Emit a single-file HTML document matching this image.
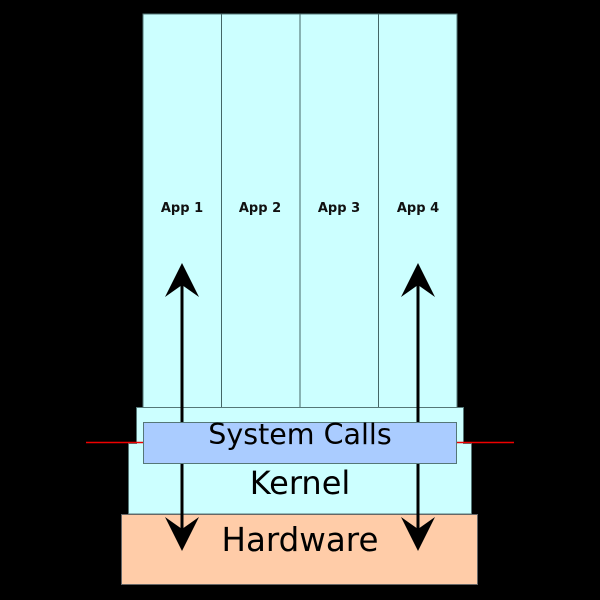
<!DOCTYPE html>
<html><head><style>html,body{margin:0;padding:0;background:#000;overflow:hidden}svg{display:block}</style></head><body>
<svg width="600" height="600" viewBox="0 0 600 600" xmlns="http://www.w3.org/2000/svg" font-family="DejaVu Sans, sans-serif">
<rect width="600" height="600" fill="#000"/>
<rect x="143" y="14" width="314" height="400" fill="#ccffff" stroke="#577" stroke-width="1"/>
<line x1="221.5" y1="14" x2="221.5" y2="407" stroke="#466" stroke-width="1"/>
<line x1="300" y1="14" x2="300" y2="407" stroke="#466" stroke-width="1"/>
<line x1="378.5" y1="14" x2="378.5" y2="407" stroke="#466" stroke-width="1"/>
<path d="M136.5 407.5 H463.5 V443.5 H471.5 V514 H128.5 V443.5 H136.5 Z" fill="#ccffff" stroke="#577" stroke-width="1"/>
<rect x="121.5" y="514.5" width="356" height="70" fill="#ffcca8" stroke="#666" stroke-width="1"/>
<line x1="86" y1="442.5" x2="143" y2="442.5" stroke="#e00" stroke-width="1.5"/>
<line x1="457" y1="442.5" x2="514" y2="442.5" stroke="#e00" stroke-width="1.5"/>
<g stroke="#000" stroke-width="3">
<line x1="182" y1="270" x2="182" y2="545"/>
<line x1="418" y1="270" x2="418" y2="545"/>
</g>
<g fill="#000">
<path d="M182 263 L199 297 L182 285 L165 297 Z"/>
<path d="M418 263 L435 297 L418 285 L401 297 Z"/>
<path d="M182 551 L199 517 L182 529 L165 517 Z"/>
<path d="M418 551 L435 517 L418 529 L401 517 Z"/>
</g>
<rect x="143.5" y="422.5" width="313" height="41" fill="#aaccff" stroke="#577" stroke-width="1"/>
<g font-size="13" font-weight="bold" text-anchor="middle" fill="#111">
<text x="182" y="212">App 1</text>
<text x="260" y="212">App 2</text>
<text x="339" y="212">App 3</text>
<text x="418" y="212">App 4</text>
</g>
<text x="300" y="444" font-size="28.5" text-anchor="middle">System Calls</text>
<text x="300" y="494" font-size="32" text-anchor="middle">Kernel</text>
<text x="300" y="551" font-size="32.5" text-anchor="middle">Hardware</text>
</svg>
</body></html>
